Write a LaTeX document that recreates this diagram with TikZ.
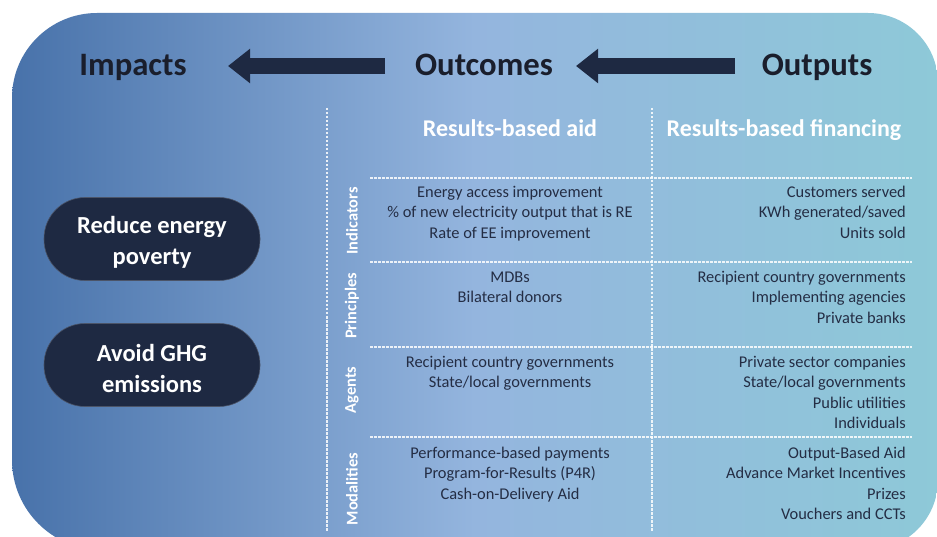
\documentclass[tikz,border=0pt]{standalone}
\usepackage{fontspec}
\setmainfont{Carlito}
\usetikzlibrary{arrows.meta}
\definecolor{bgL}{RGB}{72,114,170}
\definecolor{bgM}{RGB}{148,181,222}
\definecolor{bgR}{RGB}{142,201,216}
\definecolor{navy}{RGB}{30,41,66}
\definecolor{headtxt}{RGB}{26,30,44}
\definecolor{bodytxt}{RGB}{36,45,68}
\tikzset{
  heading/.style={font=\fontsize{32.7}{36}\selectfont\bfseries, text=headtxt, inner sep=0pt, anchor=base},
  colhead/.style={font=\fontsize{24}{28}\selectfont\bfseries, text=white, inner sep=0pt, anchor=base},
  pill/.style={fill=navy, draw=navy!80!white, line width=0.6pt, minimum width=216pt, minimum height=83pt,
    rounded corners=41pt, inner sep=0pt},
  pilltext/.style={text=white, align=center, inner sep=0pt,
    font=\fontsize{24.5}{31}\selectfont\bfseries},
  rowlab/.style={rotate=90, font=\fontsize{16.4}{20}\selectfont\bfseries, text=white, inner sep=0pt},
  cellL/.style={anchor=north, align=center, inner sep=0pt, text=bodytxt, font=\fontsize{16.4}{20.5}\selectfont},
  cellR/.style={anchor=north east, align=right, inner sep=0pt, text=bodytxt, font=\fontsize{16.4}{20.5}\selectfont},
  sep/.style={draw=white, draw opacity=0.85, line width=1.2pt, dash pattern=on 2.5pt off 1.5pt},
  bigarrow/.style={draw=navy, line width=16pt, -{Triangle[length=22pt, width=33pt]}}
}
\begin{document}
\begin{tikzpicture}[x=1pt,y=-1pt]
\useasboundingbox (0,0) rectangle (937,537);
\begin{scope}
\clip (0,0) rectangle (937,537);
\shade[left color=bgL, right color=bgR, middle color=bgM]
  (12,98) arc[start angle=180, end angle=270, radius=85]
  -- (868,13) arc[start angle=270, end angle=360, radius=70]
  -- (938,480) arc[start angle=0, end angle=90, radius=70]
  -- (102,550) arc[start angle=90, end angle=180, radius=90]
  -- cycle;
\end{scope}

% headings
\node[heading] (impacts) at (133,76) {Impacts};
\node[heading] (outcomes) at (484,76) {Outcomes};
\node[heading] (outputs) at (817,76) {Outputs};
\coordinate (a1tail) at (385,66);
\coordinate (a1tip) at (228,66);
\coordinate (a2tail) at (735,66);
\coordinate (a2tip) at (576,66);
\draw[bigarrow] (a1tail) -- (a1tip);
\draw[bigarrow] (a2tail) -- (a2tip);

% pills
\node[pill] (poverty) at (152,239) {};
\node[pilltext] (povertytxt) at ([yshift=-3.5pt]poverty.center) {Reduce energy\\poverty};
\node[pill] (ghg) at (152,365) {};
\node[pilltext] (ghgtxt) at ([yshift=-3.5pt]ghg.center) {Avoid GHG\\emissions};

% grid lines
\draw[sep] (327,108) -- (327,532);
\draw[sep] (652,108) -- (652,532);
\draw[sep] (370,178) -- (912,178);
\draw[sep] (370,262) -- (912,262);
\draw[sep] (370,347) -- (912,347);
\draw[sep] (370,437) -- (912,437);

% column headers
\node[colhead] (rba) at (510,137) {Results-based aid};
\node[colhead] (rbf) at (784,137) {Results-based financing};

% row labels
\node[rowlab] (lind) at (352,221) {Indicators};
\node[rowlab] (lpri) at (352,306) {Principles};
\node[rowlab] (lage) at (352,390) {Agents};
\node[rowlab] (lmod) at (352,489) {Modalities};

% cells
\node[cellL] (c11) at (510,182.6) {\strut Energy access improvement\\\% of new electricity output that is RE\\Rate of EE improvement};
\node[cellR] (c12) at (906,182.6) {\strut Customers served\\KWh generated/saved\\Units sold};
\node[cellL] (c21) at (510,267.6) {\strut MDBs\\Bilateral donors};
\node[cellR] (c22) at (906,267.6) {\strut Recipient country governments\\Implementing agencies\\Private banks};
\node[cellL] (c31) at (510,352.6) {\strut Recipient country governments\\State/local governments};
\node[cellR] (c32) at (906,352.6) {\strut Private sector companies\\State/local governments\\Public utilities\\Individuals};
\node[cellL] (c41) at (510,443.6) {\strut Performance-based payments\\Program-for-Results (P4R)\\Cash-on-Delivery Aid};
\node[cellR] (c42) at (906,443.6) {\strut Output-Based Aid\\Advance Market Incentives\\Prizes\\Vouchers and CCTs};
\end{tikzpicture}
\end{document}
